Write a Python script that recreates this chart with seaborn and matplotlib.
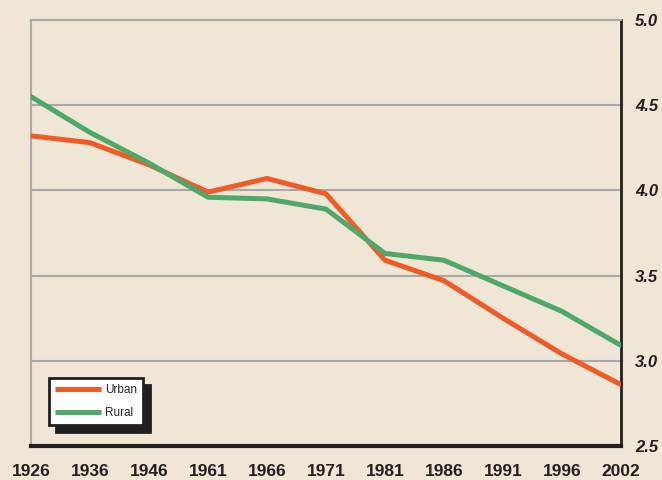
import matplotlib
matplotlib.use("Agg")
import matplotlib.pyplot as plt
import seaborn as sns
import pandas as pd
from matplotlib.lines import Line2D

years = ["1926", "1936", "1946", "1961", "1966", "1971", "1981", "1986", "1991", "1996", "2002"]
urban = [4.32, 4.28, 4.15, 3.99, 4.07, 3.98, 3.59, 3.47, 3.25, 3.04, 2.86]
rural = [4.55, 4.34, 4.16, 3.96, 3.95, 3.89, 3.63, 3.59, 3.44, 3.29, 3.09]
y_ticks = [2.5, 3.0, 3.5, 4.0, 4.5, 5.0]

bg = "#EFE6D6"
orange = "#F15A24"
green = "#4DA86A"
dark = "#231F20"

df = pd.DataFrame({
    "year": years * 2,
    "value": urban + rural,
    "series": ["Urban"] * len(years) + ["Rural"] * len(years),
})
df["x"] = list(range(len(years))) * 2

sns.set_style("white")
plt.rcParams["font.family"] = ["Liberation Sans", "DejaVu Sans"]

fig = plt.figure(figsize=(6.62, 4.8), dpi=100, facecolor=bg)
ax = fig.add_axes([31/662, 34/480, 590/662, 426/480])
ax.set_facecolor(bg)

for yv in y_ticks[1:-1]:
    ax.axhline(yv, color="#A8A8A8", lw=1.5, zorder=1)

sns.lineplot(data=df, x="x", y="value", hue="series",
             palette={"Urban": orange, "Rural": green},
             lw=3.6, ax=ax, zorder=3, legend=False)

ax.set_xlim(0, len(years) - 1)
ax.set_ylim(2.5, 5.0)
ax.set_xticks(range(len(years)))
ax.set_xticklabels(years, fontsize=12.5, fontweight="bold")
ax.set_yticks(y_ticks)
ax.set_yticklabels([f"{v:.1f}" for v in y_ticks], fontsize=12,
                   fontweight="bold", fontstyle="italic")
ax.yaxis.tick_right()
ax.tick_params(axis="y", length=0, pad=10, colors=dark)
ax.tick_params(axis="x", direction="out", length=5, width=2.5, color=dark,
               pad=8, labelcolor=dark)
ax.set_xlabel("")
ax.set_ylabel("")

for side in ["top", "left"]:
    ax.spines[side].set_color("#A8A8A8")
    ax.spines[side].set_linewidth(1.5)
ax.spines["right"].set_color(dark)
ax.spines["right"].set_linewidth(2)
ax.spines["bottom"].set_color(dark)
ax.spines["bottom"].set_linewidth(3)

handles = [Line2D([], [], color=orange, lw=3.6, solid_capstyle="butt"),
           Line2D([], [], color=green, lw=3.6, solid_capstyle="butt")]
leg = ax.legend(handles, ["Urban", "Rural"], loc="lower left",
                bbox_to_anchor=(18/590, 21/426), frameon=True, fancybox=False,
                shadow={"color": dark, "alpha": 1, "ox": 5, "oy": -5},
                fontsize=8.5, handlelength=3.9, handletextpad=0.35,
                borderpad=0.5, labelspacing=0.95, borderaxespad=0)
leg.get_frame().set_edgecolor(dark)
leg.get_frame().set_linewidth(2)
leg.get_frame().set_facecolor("white")

fig.savefig("out.png", dpi=100, facecolor=bg)
